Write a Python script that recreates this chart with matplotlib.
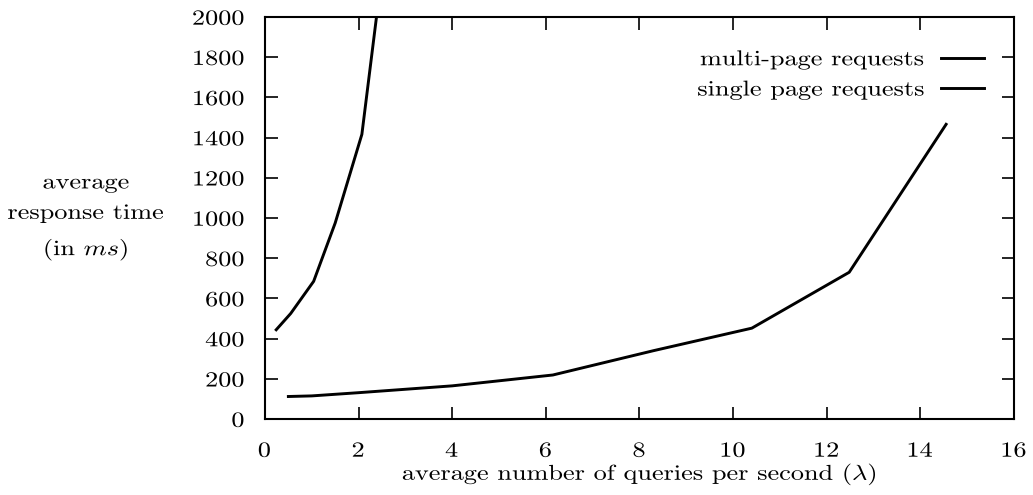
import matplotlib
matplotlib.use("Agg")
import matplotlib.pyplot as plt
from matplotlib.patheffects import AbstractPathEffect
from matplotlib.transforms import Affine2D

plt.rcParams['font.family'] = ['cmr10', 'DejaVu Serif']
plt.rcParams['mathtext.fontset'] = 'cm'
plt.rcParams['axes.formatter.use_mathtext'] = True

# response time (ms) vs. query rate
multi_rate = [0.24, 0.55, 1.04, 1.5, 2.07, 2.5]
multi_time = [444, 525, 685, 975, 1416, 2220]

single_rate = [0.5, 1.0, 2.0, 4.0, 6.15, 8.3, 10.4, 12.48, 14.55]
single_time = [112, 115, 131, 165, 219, 340, 452, 730, 1466]

x_ticks = [0, 2, 4, 6, 8, 10, 12, 14, 16]
y_ticks = [0, 200, 400, 600, 800, 1000, 1200, 1400, 1600, 1800, 2000]

FS = 15.5
SX = 1.22


class WideText(AbstractPathEffect):
    """Stretch a text path horizontally about one of its edges."""

    def __init__(self, sx, anchor='center'):
        super().__init__()
        self.sx = sx
        self.anchor = anchor

    def draw_path(self, renderer, gc, tpath, affine, rgbFace=None):
        ext = tpath.get_extents(affine)
        if self.anchor == 'left':
            cx = ext.x0
        elif self.anchor == 'right':
            cx = ext.x1
        else:
            cx = 0.5 * (ext.x0 + ext.x1)
        aff = affine + Affine2D().translate(-cx, 0).scale(self.sx, 1).translate(cx, 0)
        renderer.draw_path(gc, tpath, aff, rgbFace)


fig = plt.figure(figsize=(10.33, 4.95), dpi=100)
ax = fig.add_axes([0.2565, 0.1535, 0.7251, 0.8122])

ax.plot(multi_rate, multi_time, color='black', lw=2.1, label='multi-page requests')
ax.plot(single_rate, single_time, color='black', lw=2.1, label='single page requests')

ax.set_xlim(0, 16)
ax.set_ylim(0, 2000)
ax.set_xticks(x_ticks)
ax.set_yticks(y_ticks)
ax.tick_params(direction='in', length=9, width=1.2, top=True, right=True,
               labelsize=FS)
ax.tick_params(axis='x', pad=16)
ax.tick_params(axis='y', pad=14)
for s in ax.spines.values():
    s.set_linewidth(1.5)

for t in ax.xaxis.get_major_ticks():
    t.label1.set_path_effects([WideText(SX, 'center')])
for t in ax.yaxis.get_major_ticks():
    t.label1.set_path_effects([WideText(SX, 'right')])

xl = ax.set_xlabel(r'average number of queries per second ($\lambda$)',
                   fontsize=FS, labelpad=0)
xl.set_path_effects([WideText(SX, 'center')])

yl = fig.text(86 / 1033, 1 - 218 / 495, 'average\nresponse time\n(in $ms$)',
              ha='center', va='center', multialignment='center', fontsize=FS,
              linespacing=1.7)
yl.set_path_effects([WideText(SX, 'center')])

leg = ax.legend(loc='upper right', bbox_to_anchor=(0.972, 0.94), frameon=False,
                markerfirst=False, fontsize=FS, handlelength=2.0, handletextpad=0.75,
                labelspacing=0.5, borderaxespad=0)
for t in leg.get_texts():
    t.set_path_effects([WideText(SX, 'right')])

fig.savefig('out.png', dpi=100)
